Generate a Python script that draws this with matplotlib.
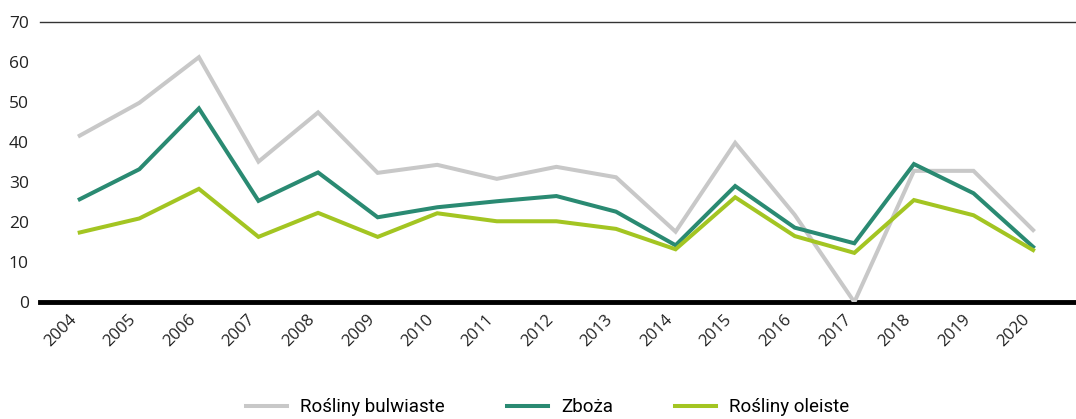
import matplotlib
matplotlib.use('Agg')
import matplotlib.pyplot as plt
import matplotlib.transforms as mtransforms

years = list(range(2004, 2021))
bulwiaste = [41.6, 49.8, 61.2, 35.1, 47.4, 32.3, 34.3, 30.8, 33.8, 31.2, 17.6, 39.8, 21.8, 0.0, 32.8, 32.8, 18.0]
zboza = [25.7, 33.2, 48.4, 25.3, 32.4, 21.2, 23.7, 25.2, 26.5, 22.6, 14.2, 29.0, 18.6, 14.7, 34.5, 27.2, 13.8]
oleiste = [17.4, 20.9, 28.3, 16.3, 22.3, 16.3, 22.2, 20.2, 20.2, 18.3, 13.2, 26.2, 16.5, 12.3, 25.5, 21.7, 13.0]
yticks = [0, 10, 20, 30, 40, 50, 60, 70]

plt.rcParams['font.family'] = ['Open Sans', 'DejaVu Sans']

fig = plt.figure(figsize=(10.76, 4.19), dpi=100)
ax = fig.add_axes([0.037, 0.279, 0.963, 0.6685])

ax.plot(years, bulwiaste, color='#c8c8c8', lw=2.9, label='Rośliny bulwiaste', solid_joinstyle='miter')
ax.plot(years, zboza, color='#2a8a72', lw=2.9, label='Zboża', solid_joinstyle='miter')
ax.plot(years, oleiste, color='#a3c522', lw=2.9, label='Rośliny oleiste', solid_joinstyle='miter')

ax.set_xlim(2003.33, 2020.72)
ax.set_ylim(0, 70)
ax.set_yticks(yticks)
ax.set_yticklabels([str(v) for v in yticks], fontsize=12.5, color='#222222')
ax.set_xticks(years)
ax.set_xticklabels([str(y) for y in years], rotation=45, ha='right', fontsize=12,
                   color='#222222')
offset = mtransforms.ScaledTranslation(13 / 100, 0, fig.dpi_scale_trans)
for lbl in ax.get_xticklabels():
    lbl.set_transform(lbl.get_transform() + offset)

ax.tick_params(axis='both', length=0)
ax.tick_params(axis='y', pad=8)
ax.tick_params(axis='x', pad=7)

for s in ['left', 'right']:
    ax.spines[s].set_visible(False)
ax.spines['top'].set_linewidth(1.0)
ax.spines['top'].set_color('#333333')
ax.spines['bottom'].set_linewidth(3.5)
ax.spines['bottom'].set_color('black')
ax.spines['bottom'].set_zorder(0.5)

fig.legend(loc='center', bbox_to_anchor=(0.509, 0.028), ncol=3, frameon=False,
           handlelength=2.2, columnspacing=3.3, handletextpad=0.7,
           prop={'family': ['Roboto', 'DejaVu Sans'], 'size': 13.5})

fig.savefig('out.png', dpi=100)
